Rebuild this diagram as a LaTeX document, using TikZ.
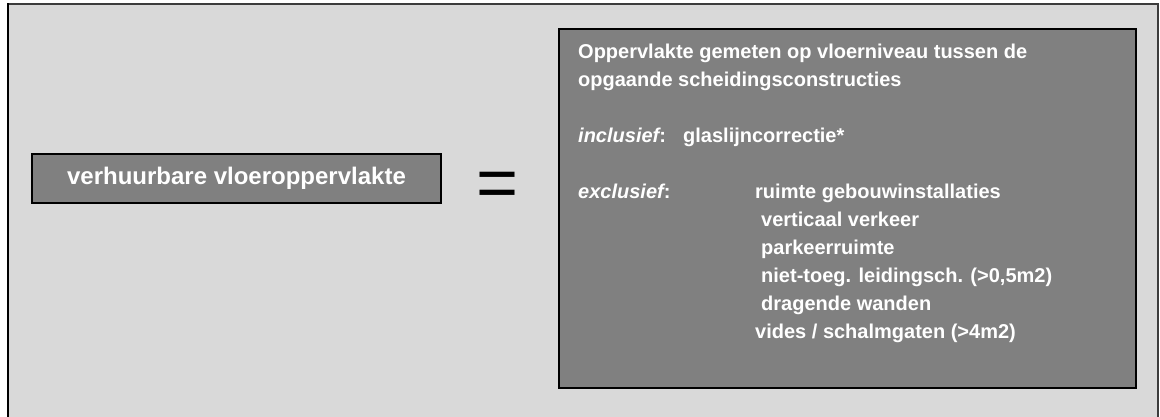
\documentclass[tikz,border=0pt]{standalone}
\usepackage{fontspec}
\setmainfont{Liberation Sans}
\definecolor{panel}{RGB}{217,217,217}
\definecolor{boxgray}{RGB}{128,128,128}
\definecolor{rim}{RGB}{60,60,60}
\begin{document}
\begin{tikzpicture}[x=1pt,y=-1pt,
  greybox/.style={draw=black, line width=2pt, fill=boxgray, rectangle, inner sep=0pt},
  txt/.style={anchor=base west, inner sep=0pt, text=white,
    font=\bfseries\fontsize{20}{28}\selectfont}]
\useasboundingbox (0,0) rectangle (1160,416);
\fill[white] (0,0) rectangle (1160,416);
% outer panel
\fill[panel] (8,4) rectangle (1158,420);
\draw[rim, line width=1.5pt] (8,420) -- (8,4) -- (1158,4) -- (1158,420);
\draw[black, line width=2.5pt] (8,420) -- (8,3.3);
% left-hand term
\node[greybox, minimum width=409pt, minimum height=49pt, text=white,
  font=\bfseries\fontsize{24}{28}\selectfont] (lhs) at (236.5,178.5)
  {verhuurbare vloeroppervlakte};
% equals sign
\node[anchor=base, inner sep=0pt, font=\fontsize{72}{72}\selectfont] (eq) at (497.5,207) {=};
% definition box
\node[greybox, minimum width=577pt, minimum height=359pt] (rhs) at (847.5,208.5) {};
\node[txt] (l1) at (578,58) {Oppervlakte gemeten op vloerniveau tussen de};
\node[txt] (l2) at (578,86) {opgaande scheidingsconstructies};
\node[txt] (inc) at (578,142) {{\itshape inclusief}:};
\node[txt] (incv) at (683,142) {glaslijncorrectie*};
\node[txt] (exc) at (578,198) {{\itshape exclusief}:};
\node[txt] (e1) at (755,198) {ruimte gebouwinstallaties};
\node[txt] (e2) at (761,226) {verticaal verkeer};
\node[txt] (e3) at (761,254) {parkeerruimte};
\node[txt] (e4) at (761,282) {niet-toeg. leidingsch. (>0,5m2)};
\node[txt] (e5) at (761,310) {dragende wanden};
\node[txt] (e6) at (755,338) {vides / schalmgaten (>4m2)};
\end{tikzpicture}
\end{document}
